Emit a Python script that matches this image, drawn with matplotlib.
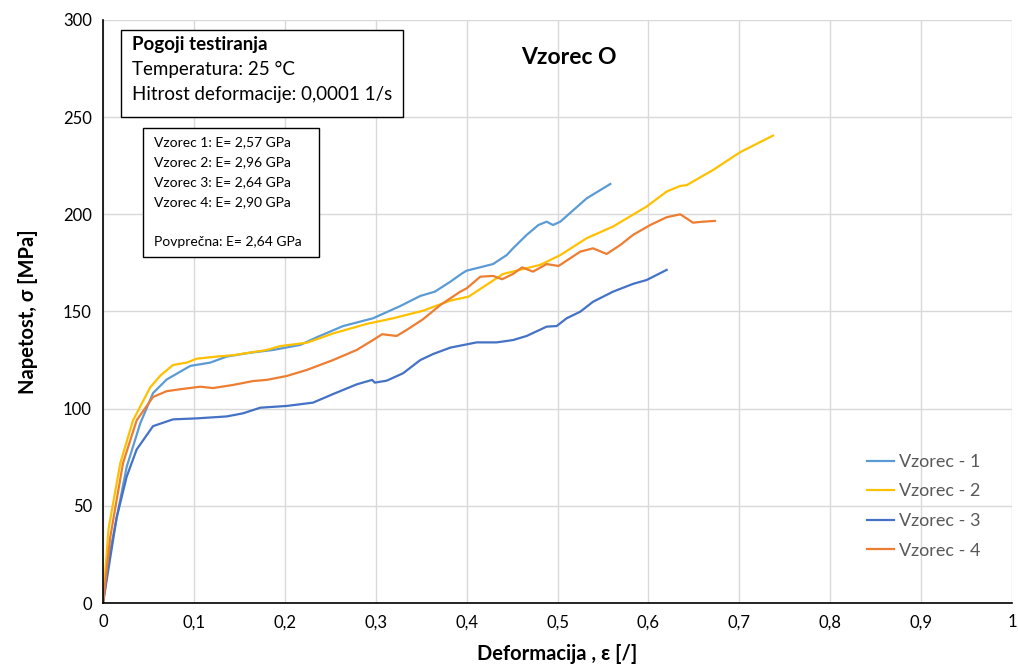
import matplotlib
matplotlib.use("Agg")
import matplotlib.pyplot as plt
from matplotlib.patches import Rectangle
from matplotlib.ticker import FuncFormatter

plt.rcParams['font.family'] = ['Lato', 'DejaVu Sans']

# Vzorec 1
x1 = [0, 0.008, 0.026, 0.041, 0.055, 0.070, 0.096, 0.118, 0.136, 0.162, 0.187, 0.217, 0.235, 0.264,
      0.297, 0.327, 0.349, 0.365, 0.382, 0.395, 0.400, 0.429, 0.444, 0.451, 0.466, 0.479, 0.488,
      0.495, 0.503, 0.532, 0.558]
y1 = [0, 27, 70, 92.5, 108, 115, 122, 123.7, 126.8, 128.8, 130.2, 132.8, 136.7, 142.5,
      146.5, 152.8, 158, 160.2, 165.3, 169.6, 171, 174.4, 179, 182.5, 189.4, 194.5, 196.2,
      194.5, 196.2, 208.2, 215.6]
# Vzorec 2
x2 = [0, 0.006, 0.019, 0.033, 0.052, 0.063, 0.077, 0.092, 0.103, 0.125, 0.143, 0.180, 0.195, 0.224,
      0.253, 0.290, 0.319, 0.352, 0.382, 0.402, 0.440, 0.481, 0.503, 0.532, 0.561, 0.598, 0.620,
      0.635, 0.642, 0.671, 0.701, 0.737]
y2 = [0, 38, 72, 94, 111, 117, 122.5, 123.7, 125.7, 126.8, 127.5, 130.2, 132.2, 133.9,
      138.7, 143.6, 146.5, 150.4, 155.6, 157.6, 169.3, 174, 179, 187.7, 193.7, 204, 211.7,
      214.6, 215, 222.8, 232, 240.5]
# Vzorec 3
x3 = [0, 0.015, 0.026, 0.037, 0.055, 0.077, 0.103, 0.136, 0.154, 0.173, 0.202, 0.231, 0.253, 0.279,
      0.296, 0.299, 0.312, 0.330, 0.349, 0.363, 0.382, 0.411, 0.433, 0.451, 0.466, 0.488, 0.499,
      0.510, 0.525, 0.539, 0.561, 0.583, 0.598, 0.620]
y3 = [0, 44, 65, 79, 91, 94.5, 95, 96, 97.6, 100.5, 101.4, 103.1, 107.5, 112.5,
      114.8, 113.4, 114.4, 118.2, 125, 128.1, 131.4, 134.1, 134.1, 135.3, 137.4, 142.2, 142.5,
      146.5, 149.9, 155, 160.2, 164.2, 166.2, 171.4]
# Vzorec 4
x4 = [0, 0.008, 0.022, 0.037, 0.055, 0.070, 0.085, 0.107, 0.121, 0.143, 0.165, 0.180, 0.202, 0.224,
      0.253, 0.279, 0.297, 0.307, 0.323, 0.334, 0.352, 0.371, 0.393, 0.400, 0.415, 0.429, 0.439,
      0.451, 0.461, 0.473, 0.488, 0.501, 0.525, 0.539, 0.554, 0.569, 0.583, 0.602, 0.620, 0.635,
      0.649, 0.660, 0.673]
y4 = [0, 34, 72, 94, 106, 109, 110, 111.3, 110.6, 112.2, 114.2, 114.8, 116.8, 119.9,
      125, 130.2, 135.3, 138.3, 137.4, 140.5, 146, 153.3, 160.2, 161.9, 167.9, 168.3, 166.6,
      169.3, 172.7, 170.5, 174.4, 173.4, 180.8, 182.5, 179.6, 184.2, 189.4, 194.5, 198.5, 200,
      195.7, 196.2, 196.6]

labels = ['Vzorec - 1', 'Vzorec - 2', 'Vzorec - 3', 'Vzorec - 4']
colors = ['#5B9BD5', '#FFC000', '#4472C4', '#ED7D31']
moduli = ['Vzorec 1: E= 2,57 GPa', 'Vzorec 2: E= 2,96 GPa', 'Vzorec 3: E= 2,64 GPa',
          'Vzorec 4: E= 2,90 GPa', '', 'Povprečna: E= 2,64 GPa']

fig = plt.figure(figsize=(10.18, 6.65), dpi=100)
ax = fig.add_axes([0.1012, 0.0932, 0.893, 0.8768])

for xs, ys, c, lab in zip([x1, x2, x3, x4], [y1, y2, y3, y4], colors, labels):
    ax.plot(xs, ys, color=c, lw=1.6, label=lab)

ax.set_xlim(0, 1)
ax.set_ylim(0, 300)
ax.set_xticks([i / 10 for i in range(11)])
ax.set_yticks(range(0, 301, 50))
ax.xaxis.set_major_formatter(FuncFormatter(lambda v, p: f'{v:g}'.replace('.', ',')))
ax.tick_params(length=0, labelsize=12, pad=8)
ax.grid(True, color='#d9d9d9', lw=1)
ax.set_axisbelow(True)
for s in ['top', 'right']:
    ax.spines[s].set_visible(False)
for s in ['left', 'bottom']:
    ax.spines[s].set_color('black')
    ax.spines[s].set_linewidth(1.2)

ax.set_xlabel('Deformacija , ε [/]', fontsize=14.5, fontweight='bold', labelpad=10)
ax.set_ylabel('Napetost, σ [MPa]', fontsize=14.5, fontweight='bold', labelpad=18)

ax.text(0.512, 0.935, 'Vzorec O', transform=ax.transAxes, ha='center', va='center',
        fontsize=16.5, fontweight='bold')

# box with test conditions
ax.add_patch(Rectangle((0.0198, 0.8336), 0.310, 0.1494, transform=ax.transAxes,
                       fill=True, fc='white', ec='black', lw=1, zorder=5))
ax.text(0.032, 0.958, 'Pogoji testiranja', transform=ax.transAxes, va='center',
        fontsize=13.5, fontweight='bold', zorder=6)
ax.text(0.032, 0.915, 'Temperatura: 25 °C', transform=ax.transAxes, va='center',
        fontsize=13.5, zorder=6)
ax.text(0.032, 0.872, 'Hitrost deformacije: 0,0001 1/s', transform=ax.transAxes, va='center',
        fontsize=13.5, zorder=6)

# box with moduli
ax.add_patch(Rectangle((0.044, 0.5935), 0.1936, 0.2213, transform=ax.transAxes,
                       fill=True, fc='white', ec='black', lw=1, zorder=5))
for i, t in enumerate(moduli):
    ax.text(0.056, 0.790 - i * 0.0343, t, transform=ax.transAxes, va='center',
            fontsize=10, zorder=6)

leg = ax.legend(loc='center left', bbox_to_anchor=(0.822, 0.166), frameon=False,
                fontsize=13, handlelength=1.5, handletextpad=0.3, labelspacing=0.75)
for t in leg.get_texts():
    t.set_color('#595959')

fig.savefig('out.png', dpi=100)
